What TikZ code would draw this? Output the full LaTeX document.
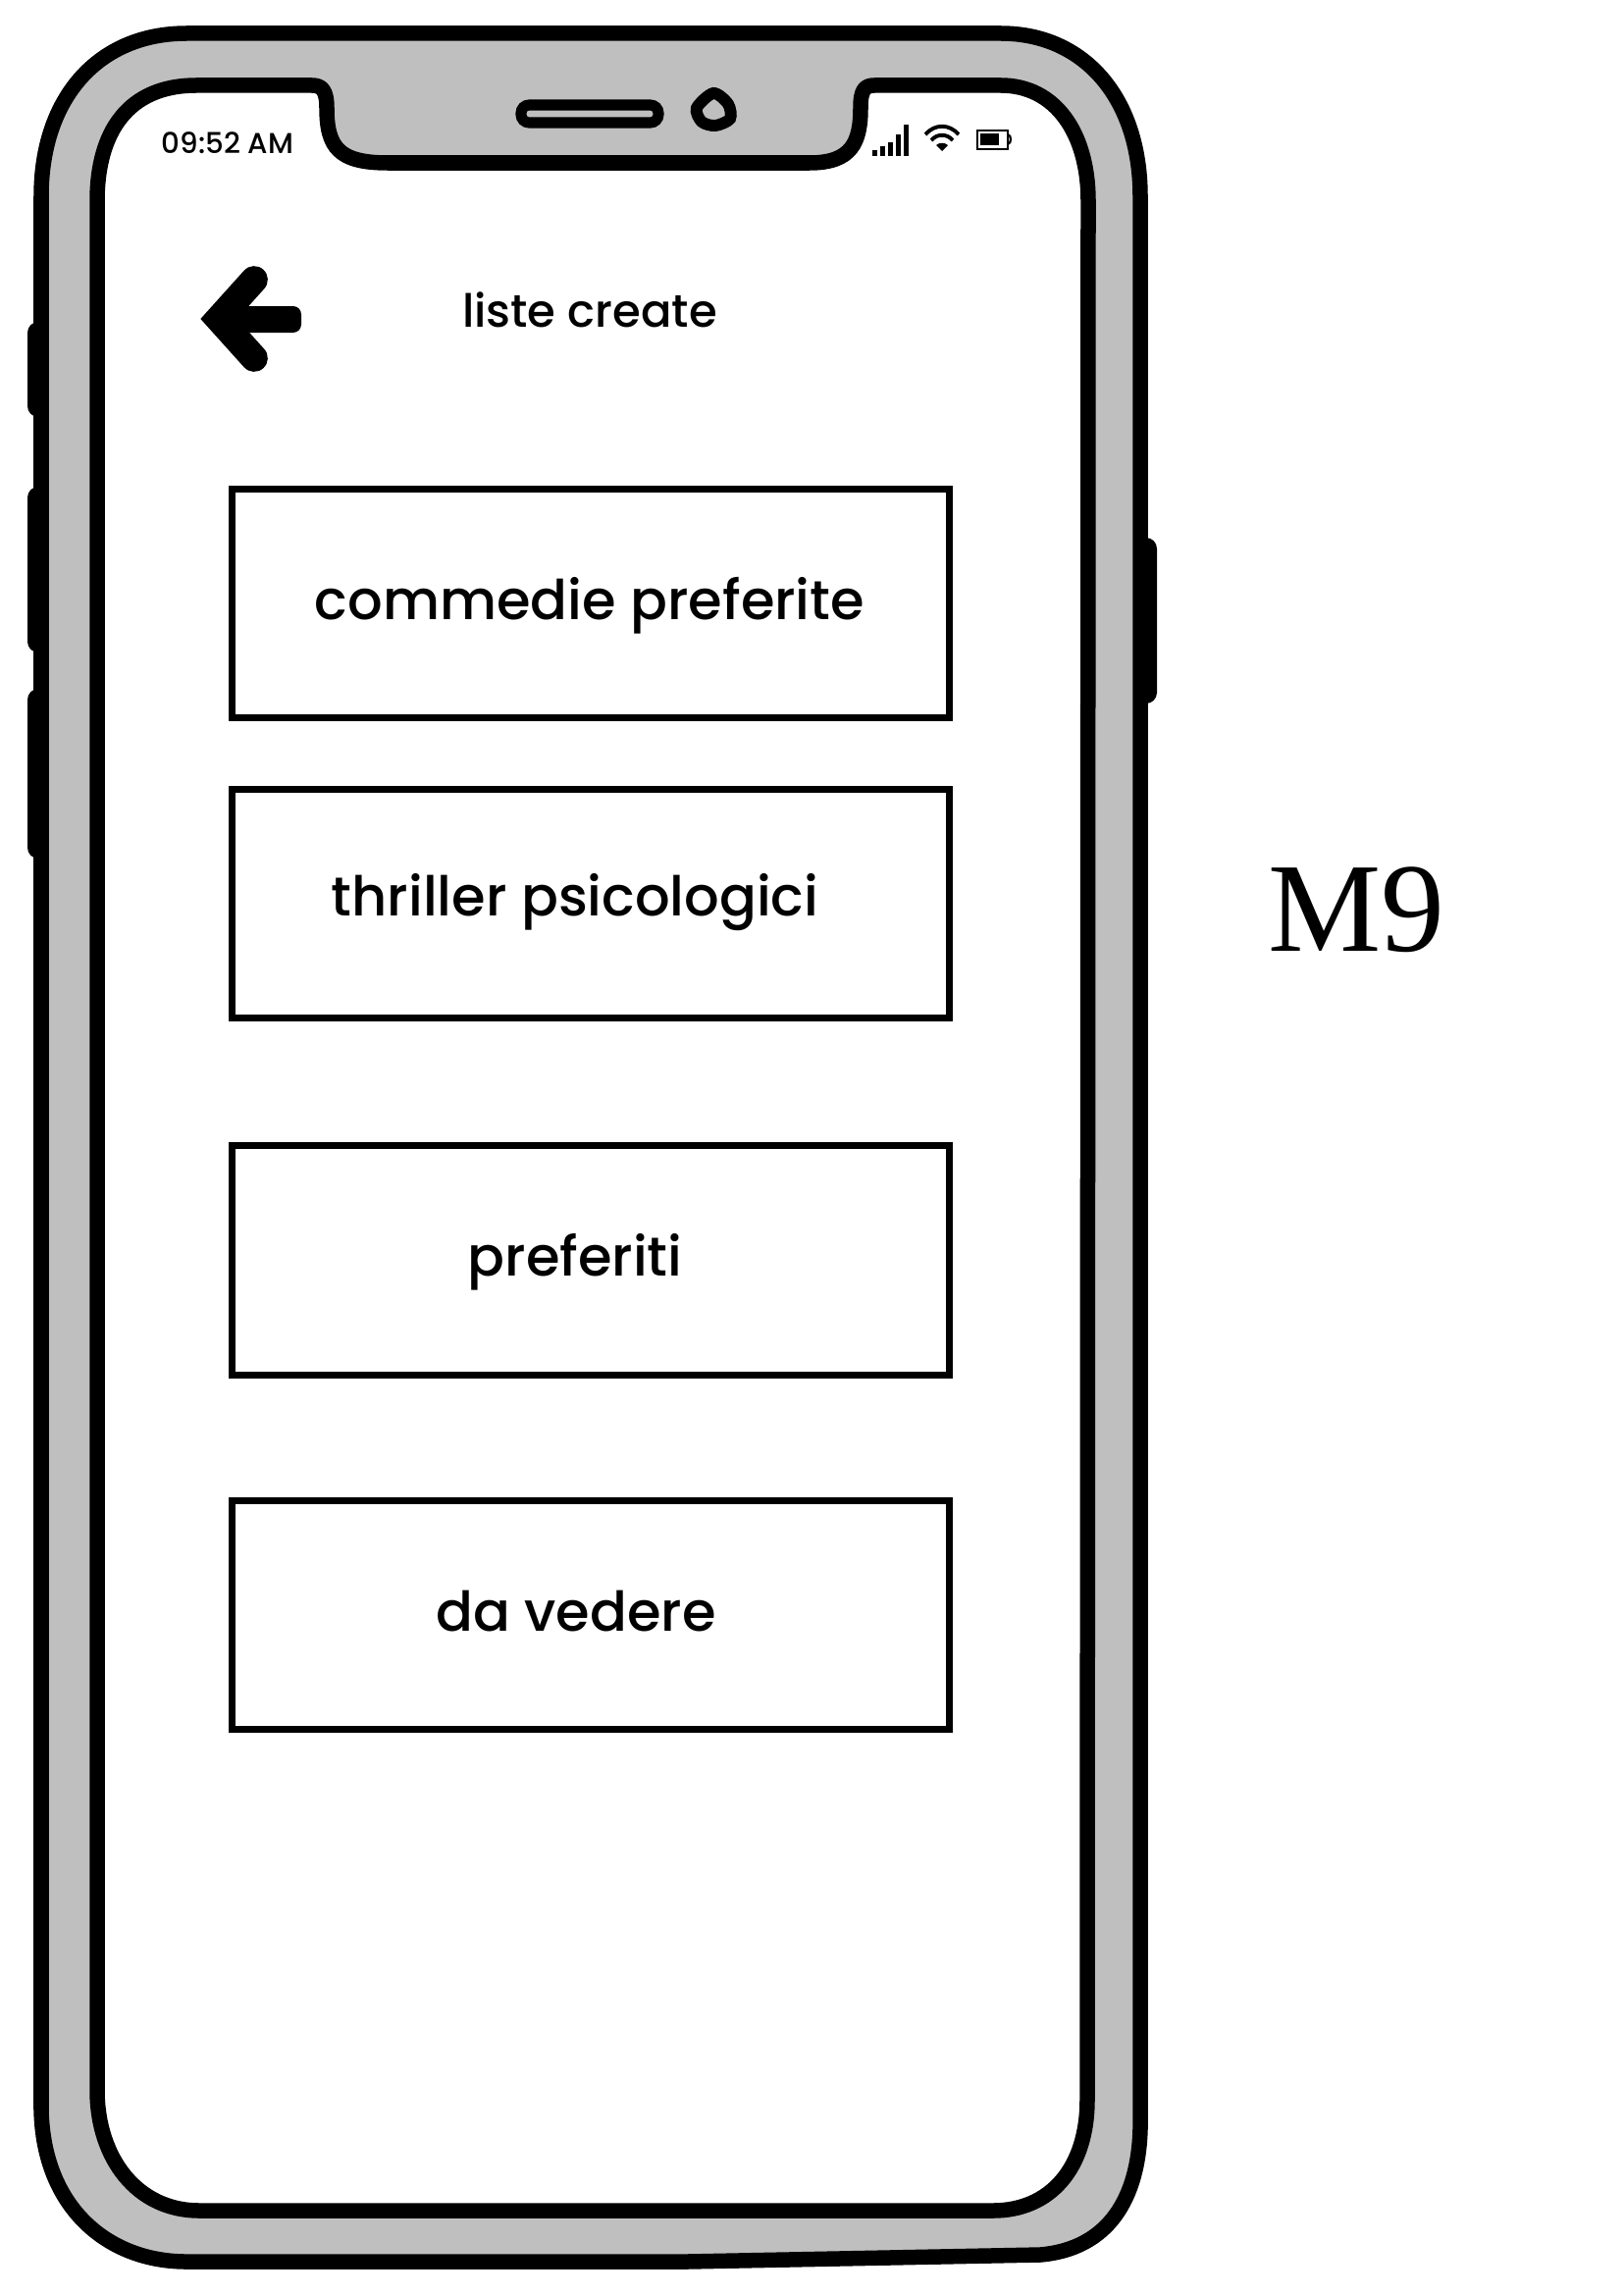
\documentclass[tikz,border=0pt]{standalone}
\usepackage{fontspec}
\newfontfamily\uifont{Poppins Medium}
\newfontfamily\labelfont{Liberation Serif}
\definecolor{phonegray}{gray}{0.75}
\tikzset{
	phoneline/.style={draw=black,line width=5.6pt,line join=round},
	listbox/.style={draw=black,line width=2.5pt,rectangle,minimum width=92.8mm,minimum height=29.6mm,inner sep=0pt},
	listtext/.style={anchor=base,inner sep=0pt,font=\uifont\fontsize{20.2}{23}\selectfont},
}
\begin{document}
\begin{tikzpicture}[x=0.12697mm,y=-0.12697mm]
\useasboundingbox (0,0) rectangle (1654,2339);

% The side buttons
\foreach \ya/\yb in {328/425,496/665,702/875}{
	\fill[rounded corners=4pt] (28,\ya) rectangle (50,\yb);
}
\fill[rounded corners=4pt] (1155,548) rectangle (1179,717);

% The body of the phone
\draw[phoneline,fill=phonegray]
	(42,200) .. controls (42,100) and (100,34) .. (190,34)
 -- (1020,34) .. controls (1105,34) and (1162,100) .. (1162,200)
 -- (1162,2170) .. controls (1160,2240) and (1130,2292) .. (1060,2298)
 -- (700,2305) -- (190,2305) .. controls (110,2305) and (44,2250) .. (42,2150)
 -- cycle;

% The screen with its notch
\draw[phoneline,fill=white]
	(99,205) .. controls (99,135) and (130,87) .. (200,87)
 -- (318,87) .. controls (328,87) and (333,92) .. (333,110)
 .. controls (333,150) and (345,166) .. (395,166)
 -- (825,166) .. controls (868,166) and (877,145) .. (877,110)
 .. controls (877,92) and (881,87) .. (891,87)
 -- (1020,87) .. controls (1075,87) and (1109,135) .. (1109,205)
 -- (1108,2140) .. controls (1108,2210) and (1070,2253) .. (1012,2253)
 -- (203,2253) .. controls (140,2253) and (99,2200) .. (99,2130)
 -- cycle;

% Speaker and camera
\draw[line width=4pt,rounded corners=3pt] (531,107) rectangle (671,125);
\draw[line width=4.3pt] plot[smooth cycle] coordinates {(727,95) (742,106) (744,121) (729,128) (715,124) (710,110)};

% The status bar
\node[anchor=base,inner sep=0pt,font=\uifont\fontsize{10.6}{12}\selectfont] (clock) at (232,157) {09:52 AM};
\foreach \xa/\ytop in {889/153,897/149,905/145,913/137,921/127}{
	\fill (\xa,\ytop) rectangle ++(5,159-\ytop);
}
\draw[line width=1.4pt] (943,137) .. controls (953,126) and (967,126) .. (977,137);
\draw[line width=1.4pt] (949,143) .. controls (955,136) and (965,136) .. (971,143);
\fill (954,148) .. controls (957,145) and (963,145) .. (966,148) -- (960,154) -- cycle;
\draw[line width=0.9pt] (996,133) rectangle (1027,152);
\fill (999,136) rectangle (1018,148);
\draw[line width=0.8pt] (1027,137) .. controls (1031,138) and (1031,146) .. (1027,147);

% The back arrow and the title
\draw[line width=10pt,line cap=round,miter limit=4] (259,285) -- (223,325) -- (259,365);
\fill[rounded corners=3pt] (225,312) rectangle (307,339);
\node[listtext,font=\uifont\fontsize{16.8}{19}\selectfont] (title) at (601,333) {liste create};

% The four lists
\foreach \boxname/\boxy/\boxtext/\textx/\texty in {
	boxa/615/commedie preferite/601/631,
	boxb/921/thriller psicologici/586/933,
	boxc/1284.5/preferiti/586/1300,
	boxd/1646/da vedere/587/1662}{
	\node[listbox] (\boxname) at (602,\boxy) {};
	\node[listtext] (\boxname text) at (\textx,\texty) {\boxtext};
}

\node[anchor=base,inner sep=0pt,font=\labelfont\fontsize{46.8}{50}\selectfont] (screenname) at (1382,969) {M9};

\end{tikzpicture}
\end{document}
